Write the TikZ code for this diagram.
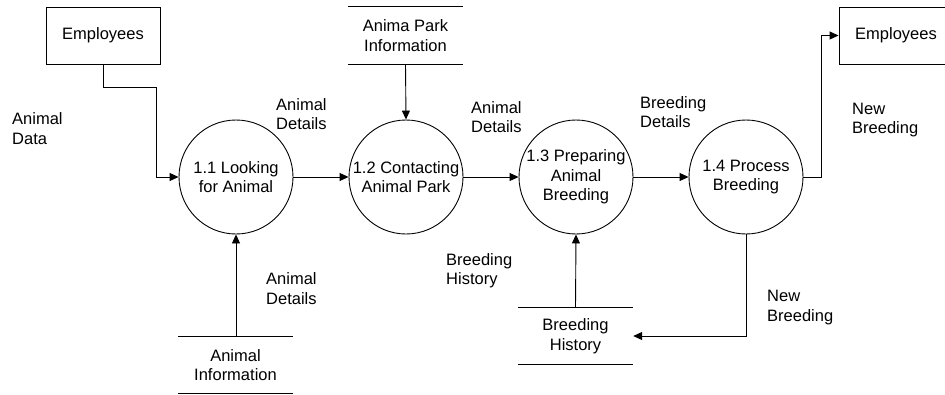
\documentclass[tikz,border=0pt]{standalone}
\usepackage{fontspec}
\setmainfont{Liberation Sans}
\usetikzlibrary{arrows.meta}
\begin{document}
\begin{tikzpicture}[x=1pt,y=-1pt,
  every node/.style={font=\fontsize{16.5}{19.5}\selectfont},
  proc/.style={circle,draw,line width=0.9pt,minimum size=114pt,inner sep=0pt,align=center},
  ent/.style={rectangle,draw,line width=0.9pt,minimum width=114pt,minimum height=57pt,inner sep=0pt,align=center},
  store/.style={rectangle,minimum width=115pt,minimum height=57pt,inner sep=0pt,align=center},
  lbl/.style={anchor=west,inner sep=0pt,align=left},
  flow/.style={line width=0.9pt,-{Triangle[length=9pt,width=8pt]}},
  sline/.style={line width=0.9pt}]
\useasboundingbox (0,0) rectangle (945,394);
\clip (0,0) rectangle (945,394);
% external entities
\node[ent] (emp1) at (103,35.5) {Employees};
\node[ent] (emp2) at (896,35.5) {Employees};
% processes
\node[proc] (p1) at (236,177) {1.1 Looking\\for Animal};
\node[proc] (p2) at (406,177) {1.2 Contacting\\Animal Park};
\node[proc] (p3) at (576,177) {1.3 Preparing\\Animal\\Breeding};
\node[proc] (p4) at (746,177) {1.4 Process\\Breeding};
% data stores
\node[store] (ds1) at (405.5,35.5) {Anima Park\\Information};
\node[store] (ds2) at (235.5,365) {Animal\\Information};
\node[store] (ds3) at (575.5,336) {Breeding\\History};
\foreach \s in {ds1,ds2,ds3}{
  \draw[sline] (\s.north west) -- (\s.north east);
  \draw[sline] (\s.south west) -- (\s.south east);
}
% flows
\draw[flow] (emp1.south) |- (156,87) |- (p1.west);
\draw[flow] (p1) -- (p2);
\draw[flow] (p2) -- (p3);
\draw[flow] (p3) -- (p4);
\draw[flow] (p4.east) -| (821,35.5) -- (emp2.west);
\draw[flow] (ds1.south) -- (p2.north);
\draw[flow] (ds2.north -| p1.south) -- (p1.south);
\draw[flow] (ds3.north) -- (p3.south);
\draw[flow] (p4.south) |- (ds3.east);
% labels
\node[lbl] (l1) at (12,128.5) {Animal\\Data};
\node[lbl] (l2) at (276,114) {Animal\\Details};
\node[lbl] (l3) at (471,117) {Animal\\Details};
\node[lbl] (l4) at (640,112) {Breeding\\Details};
\node[lbl] (l5) at (852,120) {New\\Breeding};
\node[lbl] (l6) at (266,288.5) {Animal\\Details};
\node[lbl] (l7) at (446,270.5) {Breeding\\History};
\node[lbl] (l8) at (767,307.5) {New\\Breeding};
\end{tikzpicture}
\end{document}
